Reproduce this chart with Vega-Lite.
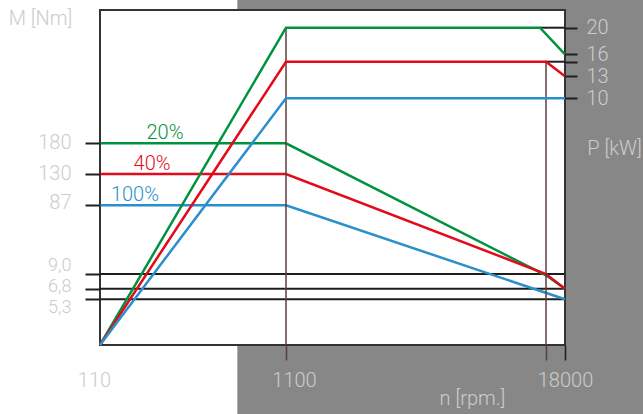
{
  "$schema": "https://vega.github.io/schema/vega-lite/v6.json",
  "width": 465,
  "height": 335,
  "autosize": {"type": "none"},
  "padding": {"left": 100, "top": 10, "right": 78, "bottom": 69},
  "background": "white",
  "config": {
    "view": {"stroke": null},
    "font": "Roboto",
    "axis": {"zindex": 1, "labelFont": "Roboto", "titleFont": "Roboto", "labelFontWeight": 300, "titleFontWeight": 300, "labelFontSize": 20, "titleFontSize": 20, "labelColor": "#cccccc", "titleColor": "#cccccc"}
  },
  "encoding": {
    "x": {
      "field": "rpm",
      "type": "quantitative",
      "scale": {"domain": [110, 1100, 18000], "range": [0, 186, 465], "nice": false, "zero": false},
      "axis": {
        "zindex": 1,
        "values": [110, 1100, 16850, 18000],
        "format": "d",
        "labelExpr": "datum.value == 16850 ? '' : datum.label",
        "title": "n [rpm.]",
        "titleX": 372,
        "titleY": 53,
        "titleAlign": "center",
        "titleBaseline": "middle",
        "labelPadding": 10,
        "tickSize": 15,
        "tickWidth": 1.5,
        "tickColor": {"condition": [{"test": "datum.value == 110", "value": "transparent"}, {"test": "datum.value == 18000", "value": "#1e1e1e"}], "value": "#5b3d3d"},
        "labelOffset": {"condition": [{"test": "datum.value == 110", "value": -6}, {"test": "datum.value == 1100", "value": 8}], "value": 0},
        "domain": false,
        "grid": false,
        "labelFlush": false,
        "labelOverlap": false,
        "labelBound": false
      }
    }
  },
  "layer": [
    {
      "encoding": {
        "y": {
          "field": "torque",
          "type": "quantitative",
          "scale": {"domain": [0, 5.3, 6.8, 9, 87, 130, 180, 300], "range": [335, 289.3, 278.7, 264, 195.3, 164, 133.3, 0], "nice": false, "zero": false},
          "axis": {
            "zindex": 1,
            "orient": "left",
            "values": [5.3, 6.8, 9, 87, 130, 180],
            "labelExpr": "datum.value < 10 ? replace(format(datum.value, '.1f'), '.', ',') : format(datum.value, 'd')",
            "title": "M [Nm]",
            "titleAngle": 0,
            "titleX": -60,
            "titleY": 8,
            "titleAlign": "center",
            "titleBaseline": "middle",
            "tickSize": 15,
            "tickWidth": 2,
            "tickColor": "#1e1e1e",
            "labelPadding": 14,
            "labelFontSize": {"condition": {"test": "datum.value < 10", "value": 18}, "value": 20},
            "labelOffset": {"condition": [{"test": "datum.value == 9", "value": -8.5}, {"test": "datum.value == 6.8", "value": -2.7}, {"test": "datum.value == 5.3", "value": 7.7}, {"test": "datum.value == 87", "value": -3}], "value": -1},
            "domain": false,
            "grid": false,
            "labelOverlap": false,
            "labelBound": false,
            "labelFlush": false
          }
        }
      },
      "layer": [
        {
          "data": {"values": [{"rpm": 841, "rpm2": 23000, "torque": -10, "torque2": 330}]},
          "mark": {"type": "rect", "fill": "#878787", "clip": false},
          "encoding": {"x2": {"field": "rpm2"}, "y2": {"field": "torque2"}}
        },
        {
          "data": {"values": [{"rpm": 110, "rpm2": 18000, "torque": 0, "torque2": 300}]},
          "mark": {"type": "rect", "fill": "white", "stroke": "#333333", "strokeWidth": 2},
          "encoding": {"x2": {"field": "rpm2"}, "y2": {"field": "torque2"}}
        },
        {
          "data": {"values": [
            {"rpm": 110, "rpm2": 18000, "torque": 9},
            {"rpm": 110, "rpm2": 18000, "torque": 6.8},
            {"rpm": 110, "rpm2": 18000, "torque": 5.3}
          ]},
          "mark": {"type": "rule", "color": "#1e1e1e", "strokeWidth": 2},
          "encoding": {"x2": {"field": "rpm2"}}
        },
        {
          "data": {"values": [
            {"series": "20%", "rpm": 110, "torque": 180},
            {"series": "20%", "rpm": 1100, "torque": 180},
            {"series": "20%", "rpm": 16850, "torque": 8.8},
            {"series": "20%", "rpm": 18000, "torque": 6.8},
            {"series": "40%", "rpm": 110, "torque": 130},
            {"series": "40%", "rpm": 1100, "torque": 130},
            {"series": "40%", "rpm": 16850, "torque": 9.0},
            {"series": "40%", "rpm": 18000, "torque": 6.8},
            {"series": "100%", "rpm": 110, "torque": 87},
            {"series": "100%", "rpm": 1100, "torque": 87},
            {"series": "100%", "rpm": 18000, "torque": 5.3}
          ]},
          "mark": {"type": "line", "strokeWidth": 2.5},
          "encoding": {
            "color": {"field": "series", "type": "nominal", "scale": {"domain": ["20%", "40%", "100%"], "range": ["#00933f", "#e30a1b", "#2b8fcd"]}, "legend": null}
          }
        },
        {
          "data": {"values": [
            {"series": "20%", "rpm": 456, "torque": 180},
            {"series": "40%", "rpm": 387, "torque": 130},
            {"series": "100%", "rpm": 296, "torque": 87}
          ]},
          "mark": {"type": "text", "fontSize": 20, "font": "Roboto", "fontWeight": 300, "align": "center", "baseline": "alphabetic", "dy": -4},
          "encoding": {
            "text": {"field": "series"},
            "color": {"field": "series", "type": "nominal", "scale": {"domain": ["20%", "40%", "100%"], "range": ["#00933f", "#e30a1b", "#2b8fcd"]}, "legend": null}
          }
        }
      ]
    },
    {
      "encoding": {
        "y": {
          "field": "power",
          "type": "quantitative",
          "scale": {"domain": [0, 10, 13, 15, 16, 20, 25], "range": [335, 88.3, 66.3, 51.7, 44.3, 17.7, 0], "nice": false, "zero": false},
          "axis": {
            "zindex": 1,
            "orient": "right",
            "values": [10, 13, 15, 16, 20],
            "labelExpr": "datum.value == 15 ? '' : datum.label",
            "title": "P [kW]",
            "titleAngle": 0,
            "titleX": 49,
            "titleY": 138,
            "titleAlign": "center",
            "titleBaseline": "middle",
            "tickSize": 12,
            "tickWidth": 2,
            "tickColor": "#1e1e1e",
            "labelPadding": 9,
            "domain": false,
            "grid": false,
            "labelOverlap": false,
            "labelBound": false,
            "labelFlush": false
          }
        }
      },
      "layer": [
        {
          "data": {"values": [
            {"rpm": 1100, "power": 20, "power2": 0},
            {"rpm": 16850, "power": 15, "power2": 0}
          ]},
          "mark": {"type": "rule", "color": "#5b3d3d", "strokeWidth": 1.5},
          "encoding": {"y2": {"field": "power2"}}
        },
        {
          "data": {"values": [
            {"rpm": 16486, "rpm2": 18000, "power": 20},
            {"rpm": 16789, "rpm2": 18000, "power": 15}
          ]},
          "mark": {"type": "rule", "color": "#1e1e1e", "strokeWidth": 2},
          "encoding": {"x2": {"field": "rpm2"}}
        },
        {
          "data": {"values": [
            {"series": "20%", "rpm": 110, "power": 0},
            {"series": "20%", "rpm": 1100, "power": 20},
            {"series": "20%", "rpm": 16486, "power": 20},
            {"series": "20%", "rpm": 18000, "power": 16},
            {"series": "40%", "rpm": 110, "power": 0},
            {"series": "40%", "rpm": 1100, "power": 15},
            {"series": "40%", "rpm": 16850, "power": 15},
            {"series": "40%", "rpm": 18000, "power": 13},
            {"series": "100%", "rpm": 110, "power": 0},
            {"series": "100%", "rpm": 1100, "power": 10},
            {"series": "100%", "rpm": 18000, "power": 10}
          ]},
          "mark": {"type": "line", "strokeWidth": 2.5},
          "encoding": {
            "color": {"field": "series", "type": "nominal", "scale": {"domain": ["20%", "40%", "100%"], "range": ["#00933f", "#e30a1b", "#2b8fcd"]}, "legend": null}
          }
        }
      ]
    }
  ],
  "resolve": {"scale": {"y": "independent"}}
}
